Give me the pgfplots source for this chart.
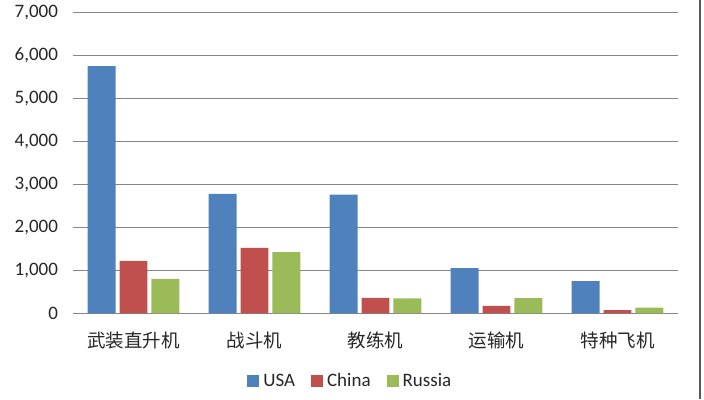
\documentclass[border=0pt]{standalone}
\usepackage{pgfplots}
\pgfplotsset{compat=1.18}
\usepackage{fontspec}
\setmainfont{Carlito}
\newfontfamily\cjk{Noto Sans CJK SC}
\definecolor{cUSA}{HTML}{4F81BD}
\definecolor{cChina}{HTML}{C0504D}
\definecolor{cRussia}{HTML}{9BBB59}
\definecolor{gridgray}{RGB}{134,134,134}
\begin{document}
\begin{tikzpicture}
\path[use as bounding box] (-73pt,-85.7pt) rectangle (631pt,313.3pt);
\begin{axis}[
  at={(0pt,0pt)}, anchor=south west,
  scale only axis, width=605pt, height=301pt,
  xmin=-0.5, xmax=4.5, ymin=0, ymax=7000,
  ytick={0,1000,...,7000},
  xtick={0,1,2,3,4},
  xticklabels={{\cjk 武装直升机},{\cjk 战斗机},{\cjk 教练机},{\cjk 运输机},{\cjk 特种飞机}},
  scaled y ticks=false,
  /pgf/number format/.cd, 1000 sep={,}, assume math mode=true,
  /pgfplots/.cd,
  ymajorgrids, grid style={draw=gridgray, line width=0.9pt},
  axis line style={draw=none},
  tick style={draw=none}, major tick length=0pt,
  yticklabel style={font=\fontsize{19}{22}\selectfont, xshift=-11.5pt, text=black!85},
  xticklabel style={font=\fontsize{18.5}{22}\selectfont, anchor=center, yshift=-27pt, text=black!85},
  legend columns=3,
  legend style={draw=none, fill=none, at={(0.46,-0.225)}, anchor=center,
    font=\fontsize{19}{22}\selectfont, text=black!85,
    nodes={inner xsep=4pt, inner ysep=2.5pt},
    /tikz/every even column/.append style={column sep=12pt}},
  legend image code/.code={\fill[#1,draw=none] (0pt,-6pt) rectangle (12pt,6pt);},
]
\addplot[ybar, bar width=0.231, bar shift=-0.264, fill=cUSA, draw=none]
  coordinates {(0,5750) (1,2780) (2,2760) (3,1050) (4,750)};
\addplot[ybar, bar width=0.231, bar shift=0, fill=cChina, draw=none]
  coordinates {(0,1220) (1,1520) (2,360) (3,175) (4,75)};
\addplot[ybar, bar width=0.231, bar shift=0.264, fill=cRussia, draw=none]
  coordinates {(0,800) (1,1425) (2,350) (3,355) (4,130)};
\legend{USA, China, Russia}
\end{axis}
\draw[black!65, line width=1.2pt] (627pt,-85.7pt) -- (627pt,313.3pt);
\end{tikzpicture}
\end{document}
